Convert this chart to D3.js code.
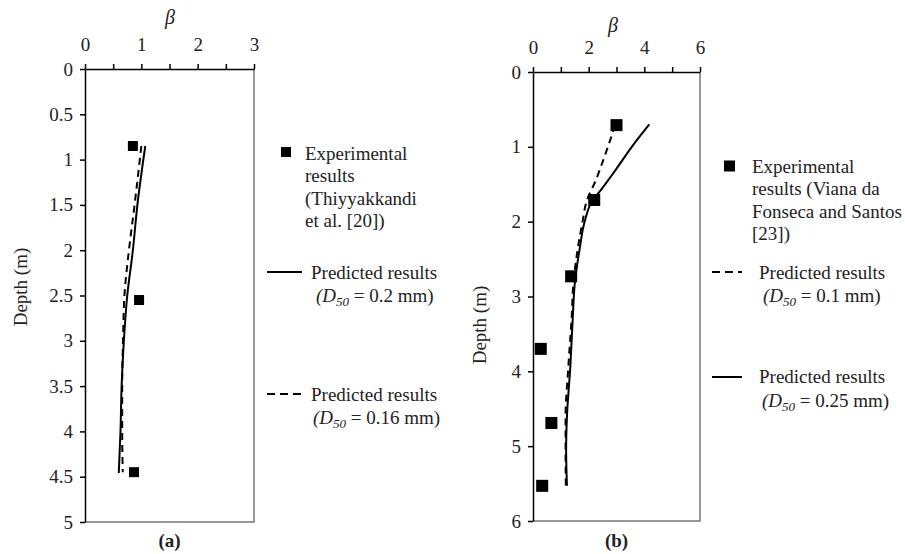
<!DOCTYPE html>
<html>
<head>
<meta charset="utf-8">
<script src="https://cdn.jsdelivr.net/npm/d3@7"></script>
<style>
  body { margin: 0; background: #fff; }
  svg text { font-family: "Liberation Serif", "Times New Roman", serif; fill: #222; }
</style>
</head>
<body>
<div id="myVis"></div>
<script>
var w = 905;
var h = 554;

// Panel (a) data
var expA_beta = [0.85, 0.96, 0.87];
var expA_depth = [0.85, 2.55, 4.45];
var solidA_depth = [0.85, 1.5, 2, 2.5, 3, 3.5, 4, 4.46];
var solidA_beta = [1.07, 0.93, 0.85, 0.75, 0.69, 0.65, 0.63, 0.60];
var dashA_depth = [0.85, 1.5, 2, 2.5, 3, 3.5, 4, 4.45];
var dashA_beta = [1.0, 0.88, 0.78, 0.70, 0.675, 0.66, 0.66, 0.67];

// Panel (b) data
var expB_beta = [3.0, 2.2, 1.37, 0.28, 0.66, 0.33];
var expB_depth = [0.71, 1.71, 2.73, 3.70, 4.69, 5.53];
var solidB_depth = [0.7, 1.0, 1.36, 1.62, 1.71, 1.98, 2.38, 2.83, 3.27, 3.94, 4.6, 5.05, 5.53];
var solidB_beta = [4.18, 3.55, 2.87, 2.35, 2.15, 1.87, 1.67, 1.5, 1.43, 1.34, 1.22, 1.19, 1.22];
var dashB_depth = [0.71, 1.13, 1.47, 1.71, 1.98, 2.38, 2.83, 3.27, 3.94, 4.6, 5.05, 5.53];
var dashB_beta = [2.95, 2.57, 2.23, 1.94, 1.79, 1.6, 1.45, 1.39, 1.27, 1.17, 1.17, 1.18];

// Ticks
var xTicksA = [0, 0.5, 1, 1.5, 2, 2.5, 3];
var xLabelsA = [0, 1, 2, 3];
var yTicksA = [0, 0.5, 1, 1.5, 2, 2.5, 3, 3.5, 4, 4.5, 5];
var xTicksB = [0, 1, 2, 3, 4, 5, 6];
var xLabelsB = [0, 2, 4, 6];
var yTicksB = [0, 1, 2, 3, 4, 5, 6];

var serif = "Liberation Serif, Times New Roman, serif";

var svg = d3.select("#myVis").append("svg")
  .attr("width", w)
  .attr("height", h)
  .attr("font-family", serif)
  .style("background-color", "white");

function zip(a, b) {
  return a.map(function(d, i) { return [d, b[i]]; });
}

function panel(opt) {
  var x = d3.scaleLinear().domain(opt.xDomain).range([opt.left, opt.right]);
  var y = d3.scaleLinear().domain(opt.yDomain).range([opt.top, opt.bottom]);

  // right / bottom border
  svg.append("path")
    .attr("d", "M" + opt.right + "," + opt.top + "V" + opt.bottom + "H" + opt.left)
    .attr("fill", "none")
    .attr("stroke", "#777")
    .attr("stroke-width", 1.5);

  var xAxis = svg.append("g")
    .attr("transform", "translate(0," + opt.top + ")")
    .call(d3.axisTop(x).tickValues(opt.xTicks).tickSize(5).tickSizeOuter(0).tickPadding(13)
      .tickFormat(function(d) { return opt.xLabels.indexOf(d) >= 0 ? String(d) : ""; }));

  var yAxis = svg.append("g")
    .attr("transform", "translate(" + opt.left + ",0)")
    .call(d3.axisLeft(y).tickValues(opt.yTicks).tickSize(5).tickSizeOuter(0).tickPadding(7)
      .tickFormat(function(d) { return String(d); }));

  [xAxis, yAxis].forEach(function(g) {
    g.attr("font-family", serif).attr("font-size", 19);
    g.selectAll("path, line").attr("stroke", "#000").attr("stroke-width", 1.5);
    g.selectAll("text").attr("fill", "#222");
  });

  var line = d3.line()
    .x(function(d) { return x(d[0]); })
    .y(function(d) { return y(d[1]); })
    .curve(d3.curveMonotoneY);

  svg.append("path")
    .datum(zip(opt.solidBeta, opt.solidDepth))
    .attr("d", line)
    .attr("fill", "none")
    .attr("stroke", "#000")
    .attr("stroke-width", 2);

  svg.append("path")
    .datum(zip(opt.dashBeta, opt.dashDepth))
    .attr("d", line)
    .attr("fill", "none")
    .attr("stroke", "#000")
    .attr("stroke-width", 2)
    .attr("stroke-dasharray", "7,5");

  svg.selectAll(null)
    .data(zip(opt.expBeta, opt.expDepth))
    .enter()
    .append("rect")
    .attr("x", function(d) { return x(d[0]) - opt.sq / 2; })
    .attr("y", function(d) { return y(d[1]) - opt.sq / 2; })
    .attr("width", opt.sq)
    .attr("height", opt.sq)
    .attr("fill", "#000");

  // beta title
  svg.append("text")
    .attr("x", opt.betaX)
    .attr("y", opt.betaY)
    .attr("text-anchor", "middle")
    .style("font-size", "20px")
    .style("font-style", "italic")
    .text("β");

  // Depth label
  svg.append("text")
    .attr("transform", "translate(" + opt.depthX + "," + opt.depthY + ") rotate(-90)")
    .attr("text-anchor", "middle")
    .style("font-size", "19px")
    .text("Depth (m)");

  // panel letter
  svg.append("text")
    .attr("x", (opt.left + opt.right) / 2)
    .attr("y", 547)
    .attr("text-anchor", "middle")
    .style("font-size", "19px")
    .style("font-weight", "bold")
    .text(opt.letter);
}

panel({
  xDomain: [0, 3], yDomain: [0, 5],
  left: 85, right: 254, top: 69, bottom: 522,
  xTicks: xTicksA, xLabels: xLabelsA, yTicks: yTicksA,
  expBeta: expA_beta, expDepth: expA_depth,
  solidBeta: solidA_beta, solidDepth: solidA_depth,
  dashBeta: dashA_beta, dashDepth: dashA_depth,
  sq: 10, betaX: 170, betaY: 24, depthX: 27, depthY: 287, letter: "(a)"
});

panel({
  xDomain: [0, 6], yDomain: [0, 6],
  left: 533, right: 700, top: 72, bottom: 521,
  xTicks: xTicksB, xLabels: xLabelsB, yTicks: yTicksB,
  expBeta: expB_beta, expDepth: expB_depth,
  solidBeta: solidB_beta, solidDepth: solidB_depth,
  dashBeta: dashB_beta, dashDepth: dashB_depth,
  sq: 12, betaX: 613, betaY: 32, depthX: 486, depthY: 325, letter: "(b)"
});

// Legends
function textLines(x, y0, lines) {
  lines.forEach(function(t, i) {
    svg.append("text")
      .attr("x", x)
      .attr("y", y0 + i * 22.3)
      .style("font-size", "19px")
      .text(t);
  });
}

function d50(x, y, val) {
  var t = svg.append("text").attr("x", x).attr("y", y).style("font-size", "19px");
  t.append("tspan").style("font-style", "italic").text("(D");
  t.append("tspan").style("font-style", "italic").style("font-size", "13px").attr("dy", 4).text("50");
  t.append("tspan").attr("dy", -4).text(" = " + val + " mm)");
}

function legLine(x1, x2, y, dashed) {
  svg.append("line")
    .attr("x1", x1).attr("x2", x2).attr("y1", y).attr("y2", y)
    .attr("stroke", "#000").attr("stroke-width", 2)
    .attr("stroke-dasharray", dashed ? "8,5" : null);
}

// legend (a)
svg.append("rect").attr("x", 281).attr("y", 147).attr("width", 10).attr("height", 10).attr("fill", "#000");
textLines(305, 160, ["Experimental", "results", "(Thiyyakkandi", "et al. [20])"]);
legLine(267, 302, 272, false);
textLines(311, 279, ["Predicted results"]);
d50(316, 302, "0.2");
legLine(267, 302, 394, true);
textLines(311, 401, ["Predicted results"]);
d50(313, 424, "0.16");

// legend (b)
svg.append("rect").attr("x", 724).attr("y", 160.5).attr("width", 11).attr("height", 11).attr("fill", "#000");
textLines(752, 173, ["Experimental", "results (Viana da", "Fonseca and Santos", "[23])"]);
legLine(712, 742, 272, true);
textLines(759, 279, ["Predicted results"]);
d50(763, 302, "0.1");
legLine(712, 742, 377, false);
textLines(759, 383, ["Predicted results"]);
d50(762, 407, "0.25");
</script>
</body>
</html>
